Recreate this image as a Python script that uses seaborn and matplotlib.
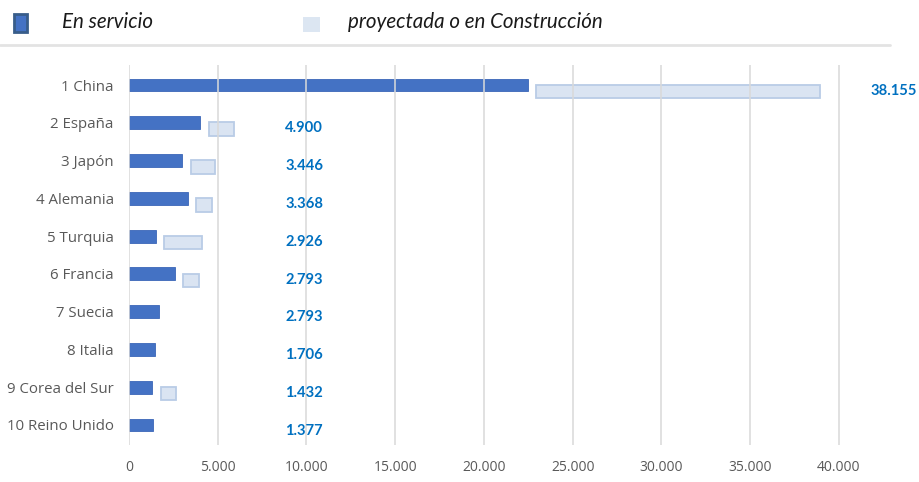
import matplotlib.pyplot as plt
import matplotlib.patches as mpatches
from matplotlib.lines import Line2D
import numpy as np
import pandas as pd
import seaborn as sns

# Datos
paises = ["1 China", "2 España", "3 Japón", "4 Alemania", "5 Turquia",
          "6 Francia", "7 Suecia", "8 Italia", "9 Corea del Sur", "10 Reino Unido"]
en_servicio = [22480, 4000, 2990, 3320, 1520, 2590, 1690, 1460, 1300, 1350]
proyectada = [16000, 1410, 1350, 850, 2090, 850, 0, 0, 850, 0]
etiquetas = ["38.155", "4.900", "3.446", "3.368", "2.926",
             "2.793", "2.793", "1.706", "1.432", "1.377"]
ticks_x = [0, 5000, 10000, 15000, 20000, 25000, 30000, 35000, 40000]

df = pd.DataFrame({"pais": paises, "servicio": en_servicio, "proyectada": proyectada})

sns.set_theme(style="white")
plt.rcParams["font.family"] = ["Open Sans", "DejaVu Sans"]

W, H = 920, 482
fig = plt.figure(figsize=(W / 100, H / 100), dpi=100)
ax = fig.add_axes([129 / W, 1 - 445 / H, (901 - 129) / W, 380 / H])

sns.barplot(data=df, x="servicio", y="pais", orient="h", color="#4472c4",
            saturation=1, width=0.34, edgecolor="#3b66b8", linewidth=0.6, ax=ax)

# barras de la parte proyectada / en construcción
gap = 480
pos = np.arange(len(paises))
serv = np.array(en_servicio)
proy = np.array(proyectada)
m = proy > 0
ax.barh(pos[m] + 0.17, proy[m], left=serv[m] + gap, height=0.36,
        color="#dae4f2", edgecolor="#b9cce6", linewidth=1.3, zorder=2)

# etiquetas azules
for i, txt in enumerate(etiquetas):
    xe = max(8800, serv[i] + gap + proy[i] + 2800)
    ax.text(xe, i + 0.15, txt, ha="left", va="center", color="#0070c0",
            fontsize=10.6, fontweight="bold", family=["Lato", "DejaVu Sans"])

ax.set_xlim(0, 43500)
ax.set_ylim(9.53, -0.53)
ax.set_xticks(ticks_x)
ax.set_xticklabels([f"{v:,}".replace(",", ".") for v in ticks_x])
ax.set_xlabel("")
ax.set_ylabel("")
ax.grid(axis="x", color="#d9d9d9", linewidth=1.4, alpha=0.8)
ax.grid(axis="y", visible=False)
ax.set_axisbelow(False)
for s in ax.spines.values():
    s.set_visible(False)
ax.tick_params(axis="both", length=0, labelcolor="#595959")
ax.tick_params(axis="x", pad=11, labelsize=10)
ax.tick_params(axis="y", pad=11, labelsize=10.8)

# leyenda superior
fig.add_artist(mpatches.Rectangle((14 / W, 1 - 32 / H), 13 / W, 18 / H,
                                  transform=fig.transFigure, facecolor="#4472c4",
                                  edgecolor="#385d8a", linewidth=2))
fig.add_artist(mpatches.Rectangle((303 / W, 1 - 32 / H), 17 / W, 15 / H,
                                  transform=fig.transFigure, facecolor="#dce6f2",
                                  edgecolor="none"))
fig.text(62 / W, 1 - 22 / H, "En servicio", style="italic", fontsize=14.8,
         va="center", color="#1a1a1a", family=["Lato", "DejaVu Sans"])
fig.text(348 / W, 1 - 22 / H, "proyectada o en Construcción", style="italic",
         fontsize=14.8, va="center", color="#1a1a1a", family=["Lato", "DejaVu Sans"])
fig.add_artist(Line2D([0, 890 / W], [1 - 45 / H, 1 - 45 / H], transform=fig.transFigure,
                      color="#e3e3e3", linewidth=2))

fig.savefig("out.png", dpi=100)
